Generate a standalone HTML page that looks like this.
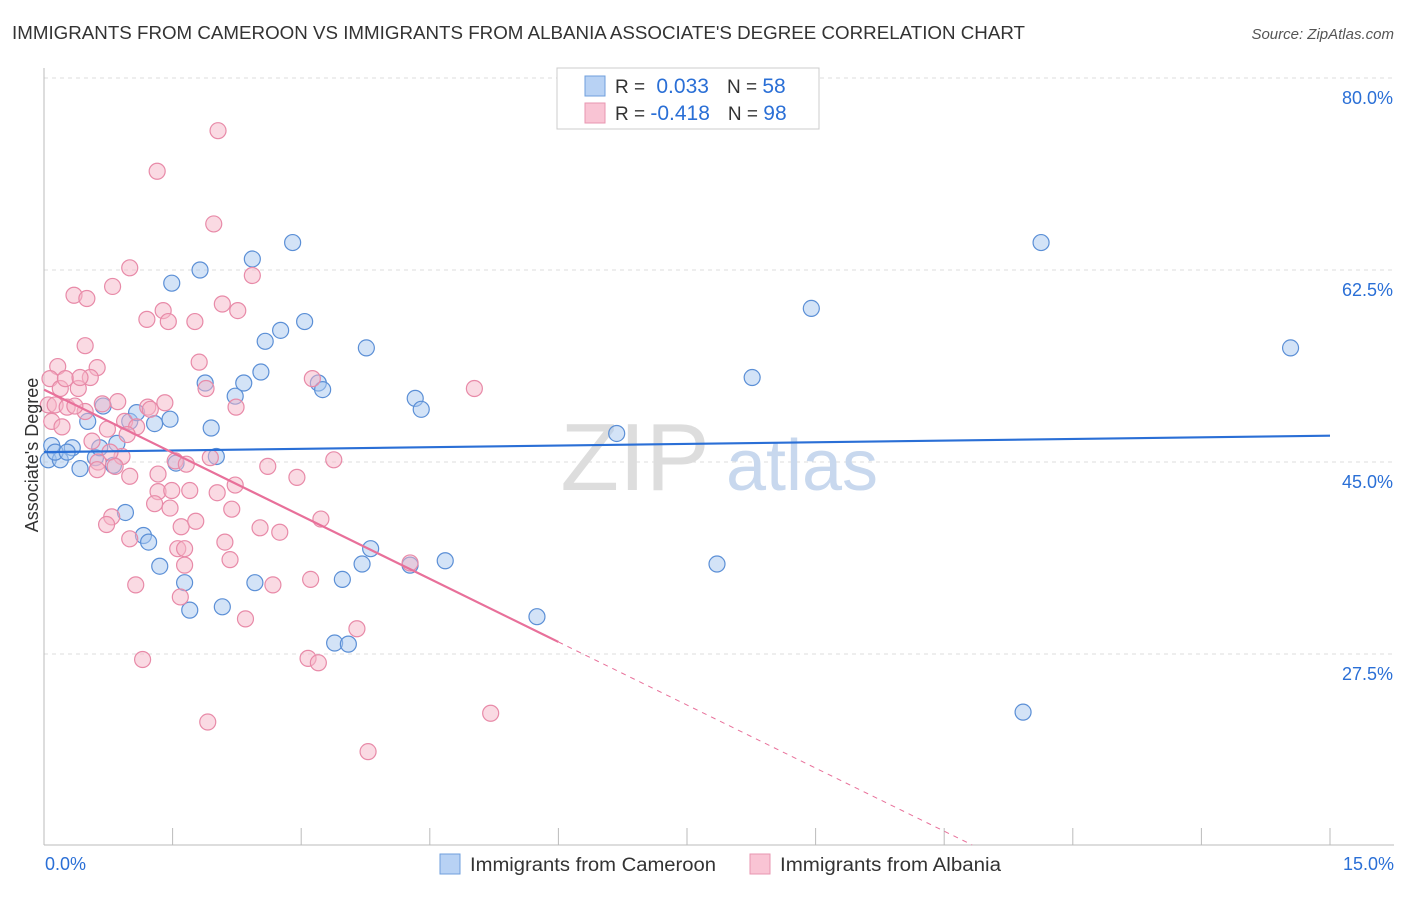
<!DOCTYPE html>
<html><head><meta charset="utf-8"><style>
body{margin:0;background:#fff;font-family:"Liberation Sans",sans-serif;}
svg text{font-family:"Liberation Sans",sans-serif;}
</style></head><body>
<svg id="chart" width="1406" height="892" xmlns="http://www.w3.org/2000/svg">
<text x="12" y="39" font-size="18.5" fill="#333" textLength="1013" lengthAdjust="spacingAndGlyphs">IMMIGRANTS FROM CAMEROON VS IMMIGRANTS FROM ALBANIA ASSOCIATE'S DEGREE CORRELATION CHART</text>
<text x="1394" y="39" font-size="15" fill="#555" font-style="italic" text-anchor="end">Source: ZipAtlas.com</text>
<g id="grid"></g>
<text x="635" y="490" font-size="96" fill="#ddd" font-family="Liberation Serif" text-anchor="middle">ZIP</text>
<text x="802" y="490" font-size="72" fill="#c8d8ee" text-anchor="middle">atlas</text>
<g id="points"></g>
<g id="lines"></g>
<text x="38" y="455" font-size="18" fill="#333" text-anchor="middle" transform="rotate(-90 38 455)">Associate's Degree</text>
<g>
<rect x="557" y="68" width="262" height="61" fill="#fff" stroke="#ccc"/>
<rect x="585" y="76" width="20" height="20" fill="#b8d2f4" stroke="#6f9fdc"/>
<rect x="585" y="103" width="20" height="20" fill="#f9c4d4" stroke="#e896b0"/>
<text x="615" y="93" font-size="19" fill="#333">R = <tspan fill="#2a6fd6" dx="6" font-size="21">0.033</tspan><tspan dx="18">N = </tspan><tspan fill="#2a6fd6" font-size="21">58</tspan></text>
<text x="615" y="120" font-size="19" fill="#333">R = <tspan fill="#2a6fd6" font-size="21">-0.418</tspan><tspan dx="18">N = </tspan><tspan fill="#2a6fd6" font-size="21">98</tspan></text>
</g>
<g>
<rect x="440" y="854" width="20" height="20" fill="#b8d2f4" stroke="#6f9fdc"/>
<text x="470" y="871" font-size="19" fill="#333" textLength="246" lengthAdjust="spacingAndGlyphs">Immigrants from Cameroon</text>
<rect x="750" y="854" width="20" height="20" fill="#f9c4d4" stroke="#e896b0"/>
<text x="780" y="871" font-size="19" fill="#333" textLength="221" lengthAdjust="spacingAndGlyphs">Immigrants from Albania</text>
</g>
<text x="45" y="870" font-size="18" fill="#2a6fd6">0.0%</text>
<text x="1394" y="870" font-size="18" fill="#2a6fd6" text-anchor="end">15.0%</text>
</svg>
<script>
const yTicks=[80,62.5,45,27.5];
const yTickLabels=["80.0%","62.5%","45.0%","27.5%"];
const xTicks=[0,1.5,3,4.5,6,7.5,9,10.5,12,13.5,15];
const camX=[0.09,0.05,0.19,0.13,0.33,0.27,0.42,0.51,0.6,0.65,0.69,0.81,0.85,0.95,1.0,1.08,1.16,1.22,1.29,1.35,1.47,1.49,1.54,1.64,1.7,1.82,1.88,1.95,2.01,2.08,2.23,2.33,2.43,2.46,2.53,2.58,2.76,2.9,3.04,3.2,3.25,3.48,3.39,3.55,3.71,3.76,3.81,4.27,4.33,4.4,4.68,5.75,6.68,7.85,8.26,8.95,11.42,11.63,14.54];
const camY=[46.5,45.2,45.2,45.9,46.3,45.9,44.4,48.7,45.4,46.3,50.1,44.7,46.7,40.4,48.7,49.5,38.3,37.7,48.5,35.5,48.9,61.3,44.9,34.0,31.5,62.5,52.2,48.1,45.5,31.8,51.0,52.2,63.5,34.0,53.2,56.0,57.0,65.0,57.8,52.2,51.6,34.3,28.5,28.4,35.7,55.4,37.1,35.6,50.8,49.8,36.0,30.9,47.6,35.7,52.7,59.0,22.2,65.0,55.4];
const albX=[2.03,1.32,1.98,1.0,2.43,0.35,0.5,0.8,2.08,2.26,1.39,1.2,1.45,1.76,0.48,0.16,0.62,1.81,0.54,0.07,0.19,0.25,0.4,0.42,0.05,0.13,0.27,0.09,0.21,0.86,1.21,1.41,1.24,1.89,2.24,3.13,5.02,0.68,0.94,1.08,0.74,0.97,0.91,0.56,0.77,0.63,0.62,1.0,0.83,1.33,1.53,1.66,1.94,2.61,2.95,3.38,1.33,1.49,1.7,2.02,2.23,1.47,1.29,2.19,0.79,0.73,1.6,1.77,2.52,2.75,3.23,1.0,1.56,1.64,2.11,2.17,1.64,1.07,2.67,3.11,1.59,2.35,3.65,1.15,3.08,3.2,1.91,5.21,3.78,4.27,0.48,0.36];
const albY=[75.2,71.5,66.7,62.7,62.0,60.2,59.9,61.0,59.4,58.8,58.8,58.0,57.8,57.8,55.6,53.7,53.6,54.1,52.7,52.6,51.7,52.6,51.7,52.7,50.2,50.2,50.0,48.7,48.2,50.5,50.0,50.4,49.8,51.7,50.0,52.6,51.7,50.3,48.7,48.2,48.0,47.5,45.5,46.9,45.9,45.0,44.3,43.7,44.6,43.9,45.1,44.8,45.4,44.6,43.6,45.2,42.3,42.4,42.4,42.2,42.9,40.8,41.2,40.7,40.0,39.3,39.1,39.6,39.0,38.6,39.8,38.0,37.1,37.1,37.7,36.1,35.6,33.8,33.8,34.3,32.7,30.7,29.8,27.0,27.1,26.7,21.3,22.1,18.6,35.8,49.6,50.1];
const camTrend=[45.9,47.4];
const albTrend=[51.6,28.6];
const NS="http://www.w3.org/2000/svg";
const L=44,R=1330,T=80,B=845;
const xs=v=>L+v/15*(R-L);
const ys=v=>462-(v-45)*(192/17.5);
function mk(tag,a,p){const e=document.createElementNS(NS,tag);for(const k in a)e.setAttribute(k,a[k]);p.appendChild(e);return e;}
const grid=document.getElementById('grid');
yTicks.forEach((t,i)=>{
 const g=mk('line',{x1:L,x2:1394,y1:ys(t),y2:ys(t),stroke:'#ddd','stroke-dasharray':'4,4'},grid);
 
 
 const tx=mk('text',{x:1393,y:ys(t)+26,'font-size':18,fill:'#2a6fd6','text-anchor':'end'},grid);
 tx.textContent=yTickLabels[i];
 
 
});
const ax=mk('line',{x1:L,x2:L,y1:68,y2:B,stroke:'#bbb'},grid);


const bx=mk('line',{x1:L,x2:1394,y1:B,y2:B,stroke:'#bbb'},grid);


xTicks.forEach(t=>{
 const l=mk('line',{x1:xs(t),x2:xs(t),y1:828,y2:B,stroke:'#bbb'},grid);
 
 
});
const pts=document.getElementById('points');
camX.forEach((v,i)=>{
 const c=mk('circle',{cx:xs(v),cy:ys(camY[i]),r:8,fill:'rgba(168,200,240,0.5)',stroke:'#5b8fd6','stroke-width':1.2},pts);
 
 
});
albX.forEach((v,i)=>{
 const c=mk('circle',{cx:xs(v),cy:ys(albY[i]),r:8,fill:'rgba(245,182,200,0.5)',stroke:'#e88aa8','stroke-width':1.2},pts);
 
 
});
const ln=document.getElementById('lines');
const b=mk('line',{x1:xs(0),y1:ys(camTrend[0]),x2:xs(15),y2:ys(camTrend[1]),stroke:'#2a6fd6','stroke-width':2.2},ln);


const slope=(albTrend[1]-albTrend[0])/6;
const p=mk('line',{x1:xs(0),y1:ys(albTrend[0]),x2:xs(6),y2:ys(albTrend[1]),stroke:'#e8709a','stroke-width':2.2},ln);


const xe=(10.1-albTrend[0])/slope;
const d=mk('line',{x1:xs(6),y1:ys(albTrend[1]),x2:xs(xe),y2:ys(10.1),stroke:'#e8709a','stroke-width':1,'stroke-dasharray':'5,5'},ln);


</script>
</body></html>
